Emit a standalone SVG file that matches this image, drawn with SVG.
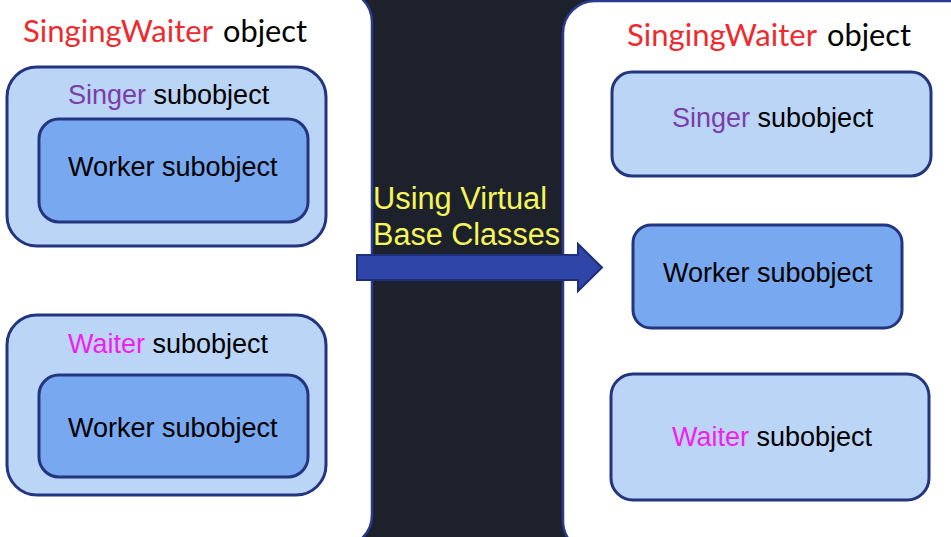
<svg xmlns="http://www.w3.org/2000/svg" width="951" height="537" viewBox="0 0 951 537">
<style>
.panel{fill:#ffffff;stroke:#2a3a8e;stroke-width:2.5}
.outer{fill:#bbd5f7;stroke:#24357f;stroke-width:3}
.inner{fill:#78a9f0;stroke:#24357f;stroke-width:3}
.t{font-family:"Liberation Sans",Arial,sans-serif;font-size:27px;fill:#000}
.title{font-family:Lato,"Liberation Sans",sans-serif;font-size:31px;fill:#000}
.red{fill:#ee2a2f}
.purple{fill:#7a3ea8}
.magenta{fill:#f01ef0}
.yellow{font-family:"Liberation Sans",Arial,sans-serif;font-size:31px;fill:#f5f55a}
</style>
<rect x="0" y="0" width="951" height="537" fill="#1c212c"/>
<g id="left-panel">
<rect class="panel" x="-40" y="-10" width="412" height="557" rx="32"/>
<text class="title red" x="23" y="42" textLength="190" lengthAdjust="spacingAndGlyphs">SingingWaiter</text>
<text class="title" x="223" y="42" textLength="84" lengthAdjust="spacingAndGlyphs">object</text>
</g>
<g id="left-singer">
<rect class="outer" x="7" y="67" width="319" height="179" rx="30"/>
<text class="t" x="68" y="104"><tspan class="purple">Singer</tspan> subobject</text>
</g>
<g id="left-singer-worker">
<rect class="inner" x="39" y="119" width="269" height="103" rx="20"/>
<text class="t" x="68" y="176">Worker subobject</text>
</g>
<g id="left-waiter">
<rect class="outer" x="7" y="315" width="319" height="180" rx="30"/>
<text class="t" x="68" y="353"><tspan class="magenta">Waiter</tspan> subobject</text>
</g>
<g id="left-waiter-worker">
<rect class="inner" x="39" y="375" width="269" height="102" rx="20"/>
<text class="t" x="68" y="437">Worker subobject</text>
</g>
<g id="right-panel">
<rect class="panel" x="563" y="1" width="430" height="552" rx="32"/>
<text class="title red" x="627" y="46" textLength="190" lengthAdjust="spacingAndGlyphs">SingingWaiter</text>
<text class="title" x="827" y="46" textLength="84" lengthAdjust="spacingAndGlyphs">object</text>
</g>
<g id="right-singer">
<rect class="outer" x="612" y="72" width="319" height="104" rx="20"/>
<text class="t" x="672" y="127"><tspan class="purple">Singer</tspan> subobject</text>
</g>
<g id="right-worker">
<rect class="inner" x="633" y="225" width="269" height="103" rx="18"/>
<text class="t" x="663" y="282">Worker subobject</text>
</g>
<g id="right-waiter">
<rect class="outer" x="611" y="374" width="318" height="126" rx="22"/>
<text class="t" x="672" y="446"><tspan class="magenta">Waiter</tspan> subobject</text>
</g>
<g id="connectors">
<text class="yellow" x="373" y="209" textLength="174" lengthAdjust="spacingAndGlyphs">Using Virtual</text>
<text class="yellow" x="373" y="245" textLength="187" lengthAdjust="spacingAndGlyphs">Base Classes</text>
<path d="M357,255 H578 V244 L602,267.5 L578,291 V280 H357 Z" fill="#2f45a8" stroke="#1f2e78" stroke-width="2" stroke-linejoin="miter"/>
</g>
</svg>
